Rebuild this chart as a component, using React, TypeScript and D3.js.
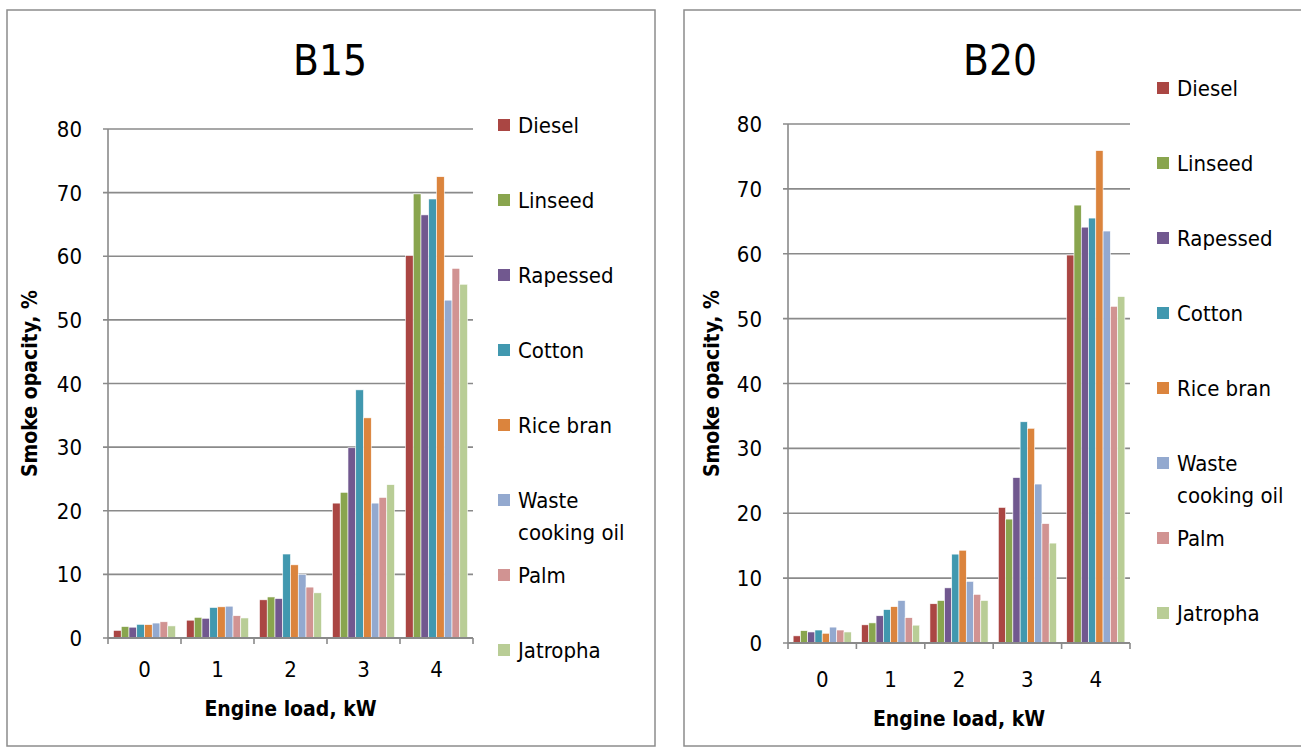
import React from 'react';
import * as d3 from 'd3';

const loads = ['0', '1', '2', '3', '4'];
const fuels = ['Diesel', 'Linseed', 'Rapessed', 'Cotton', 'Rice bran', 'Waste cooking oil', 'Palm', 'Jatropha'];
const fuelColors = ['#AA4643', '#89A54E', '#71588F', '#4198AF', '#DB843D', '#93A9CF', '#D19392', '#B9CD96'];
const yTicks = [0, 10, 20, 30, 40, 50, 60, 70, 80];

// values per fuel, one per engine load
const b15Values = [
  [1.2, 2.8, 6.0, 21.2, 60.1],
  [1.8, 3.25, 6.45, 22.9, 69.8],
  [1.7, 3.1, 6.2, 29.9, 66.5],
  [2.15, 4.8, 13.2, 39.0, 69.0],
  [2.1, 4.9, 11.5, 34.6, 72.5],
  [2.35, 5.0, 10.0, 21.2, 53.1],
  [2.55, 3.5, 8.0, 22.1, 58.1],
  [1.9, 3.15, 7.1, 24.1, 55.6],
];

const b20Values = [
  [1.1, 2.8, 6.05, 20.9, 59.8],
  [1.9, 3.1, 6.55, 19.1, 67.5],
  [1.7, 4.2, 8.5, 25.5, 64.1],
  [2.0, 5.15, 13.7, 34.1, 65.5],
  [1.5, 5.6, 14.3, 33.1, 75.9],
  [2.45, 6.55, 9.5, 24.5, 63.5],
  [2.0, 3.9, 7.5, 18.4, 51.9],
  [1.7, 2.75, 6.55, 15.4, 53.4],
];

const FONT = '"Liberation Sans Narrow", "DejaVu Sans Condensed", "Liberation Sans", sans-serif';
const GRID = '#8a8a8a';

interface PanelProps {
  title: string;
  values: number[][];
  box: { x: number; y: number; w: number; h: number };
  plot: { left: number; right: number; top: number; bottom: number };
  titleX: number;
  legend: { x: number; y: number; step: number };
  xLabelY: number;
  xTitleY: number;
  yTitleX: number;
}

const Panel: React.FC<PanelProps> = ({ title, values, box, plot, titleX, legend, xLabelY, xTitleY, yTitleX }) => {
  const x0 = d3.scaleBand<string>().domain(loads).range([plot.left, plot.right]).paddingInner(0.15).paddingOuter(0.075);
  const xOuter = d3.scaleBand<string>().domain(loads).range([plot.left, plot.right]);
  const x1 = d3.scaleBand<string>().domain(fuels).range([0, x0.bandwidth()]);
  const y = d3.scaleLinear().domain([0, 80]).range([plot.bottom, plot.top]);
  const midX = (plot.left + plot.right) / 2;
  const midY = (plot.top + plot.bottom) / 2;

  return (
    <g>
      <rect x={box.x} y={box.y} width={box.w} height={box.h} fill="#fff" stroke="#8c8c8c" strokeWidth={1.5} />
      <text x={titleX} y={75} textAnchor="middle" fontFamily={FONT} fontSize={42} fill="#000">{title}</text>
      {yTicks.map(t => (
        <g key={t}>
          <line x1={plot.left - 5} x2={plot.right} y1={y(t)} y2={y(t)} stroke={GRID} strokeWidth={1.6} />
          <text x={plot.left - 26} y={y(t) + 8} textAnchor="end" fontFamily={FONT} fontSize={22} fill="#000">{t}</text>
        </g>
      ))}
      <line x1={plot.left} x2={plot.left} y1={plot.top} y2={plot.bottom} stroke={GRID} strokeWidth={1.6} />
      {loads.map(l => (
        <line key={'t' + l} x1={xOuter(l)!} x2={xOuter(l)!} y1={plot.bottom} y2={plot.bottom + 6} stroke={GRID} strokeWidth={1.6} />
      ))}
      <line x1={plot.right} x2={plot.right} y1={plot.bottom} y2={plot.bottom + 6} stroke={GRID} strokeWidth={1.6} />
      {fuels.map((f, i) => (
        <g key={f}>
          {loads.map((l, j) => (
            <rect
              key={l}
              x={x0(l)! + x1(f)!}
              y={y(values[i][j])}
              width={x1.bandwidth()}
              height={plot.bottom - y(values[i][j])}
              fill={fuelColors[i]}
              stroke="#fff"
              strokeWidth={0.6}
            />
          ))}
        </g>
      ))}
      <line x1={plot.left} x2={plot.right} y1={plot.bottom} y2={plot.bottom} stroke={GRID} strokeWidth={1.8} />
      {loads.map(l => (
        <text key={'x' + l} x={xOuter(l)! + xOuter.bandwidth() / 2} y={xLabelY} textAnchor="middle" fontFamily={FONT} fontSize={22} fill="#000">{l}</text>
      ))}
      <text x={midX} y={xTitleY} textAnchor="middle" fontFamily={FONT} fontSize={21} fontWeight="bold" fill="#000">Engine load, kW</text>
      <text transform={`translate(${yTitleX},${midY}) rotate(-90)`} textAnchor="middle" fontFamily={FONT} fontSize={21} fontWeight="bold" fill="#000">Smoke opacity, %</text>
      {fuels.map((f, i) => {
        const cy = legend.y + i * legend.step;
        const words = f === 'Waste cooking oil' ? ['Waste', 'cooking oil'] : [f];
        return (
          <g key={'lg' + f}>
            <rect x={legend.x} y={cy - 6} width={12} height={12} fill={fuelColors[i]} />
            {words.map((w, k) => (
              <text key={w} x={legend.x + 20} y={cy + 8 + k * 32} fontFamily={FONT} fontSize={22} fill="#000">{w}</text>
            ))}
          </g>
        );
      })}
    </g>
  );
};

export default function App() {
  return (
    <svg width={1301} height={748} style={{ position: 'absolute', left: 0, top: 0, background: '#fff' }}>
      <rect width={1301} height={748} fill="#fff" />
      <Panel
        title="B15"
        values={b15Values}
        box={{ x: 7, y: 10, w: 648, h: 736 }}
        plot={{ left: 108, right: 473, top: 129, bottom: 638 }}
        titleX={330}
        legend={{ x: 498, y: 125, step: 75 }}
        xLabelY={677}
        xTitleY={716}
        yTitleX={37}
      />
      <Panel
        title="B20"
        values={b20Values}
        box={{ x: 684, y: 10, w: 630, h: 736 }}
        plot={{ left: 788, right: 1130, top: 124, bottom: 643 }}
        titleX={1000}
        legend={{ x: 1157, y: 88, step: 75 }}
        xLabelY={687}
        xTitleY={726}
        yTitleX={719}
      />
    </svg>
  );
}
